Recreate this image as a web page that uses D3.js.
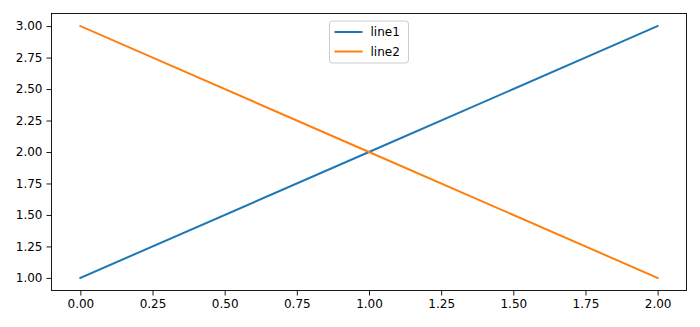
<!DOCTYPE html>
<html>
<head>
<meta charset="utf-8">
<script src="https://cdn.jsdelivr.net/npm/d3@7"></script>
<style>
	body { margin: 0; background: #fff; }
	text { font-family: 'DejaVu Sans', sans-serif; fill: #000; }
</style>
</head>
<body>
<script>
// data
var xValues = [0, 1, 2];
var line1 = [1, 2, 3];
var line2 = [3, 2, 1];
var seriesNames = ['line1', 'line2'];
var seriesColors = ['#1f77b4', '#ff7f0e'];
var xTicks = [0, 0.25, 0.5, 0.75, 1, 1.25, 1.5, 1.75, 2];
var yTicks = [1, 1.25, 1.5, 1.75, 2, 2.25, 2.5, 2.75, 3];

var width = 700, height = 327;
var margin = { left: 51.5, top: 13.5, right: 13.5, bottom: 36.5 };
var fontSize = 12;

var svg = d3.select('body').append('svg')
	.attr('width', width)
	.attr('height', height);

var x = d3.scaleLinear()
	.domain([-0.1, 2.1])
	.range([margin.left, width - margin.right]);
var y = d3.scaleLinear()
	.domain([0.9, 3.1])
	.range([height - margin.bottom, margin.top]);

// axes
var xAxisEl = svg.append('g')
	.attr('transform', 'translate(0,' + (height - margin.bottom) + ')')
	.call(d3.axisBottom(x).tickValues(xTicks).tickFormat(d3.format('.2f')).tickSize(5).tickPadding(4));
var yAxisEl = svg.append('g')
	.attr('transform', 'translate(' + margin.left + ',0)')
	.call(d3.axisLeft(y).tickValues(yTicks).tickFormat(d3.format('.2f')).tickSize(5).tickPadding(4));
[xAxisEl, yAxisEl].forEach(function (a) {
	a.select('.domain').remove();
	a.selectAll('line').attr('stroke', '#000').attr('stroke-width', 0.9);
	a.selectAll('text').style('font-size', fontSize + 'px').attr('fill', '#000');
});

// frame
svg.append('rect')
	.attr('x', margin.left).attr('y', margin.top)
	.attr('width', width - margin.left - margin.right)
	.attr('height', height - margin.top - margin.bottom)
	.attr('fill', 'none').attr('stroke', '#000').attr('stroke-width', 0.9);

// lines
var series = [line1, line2];
var lineGen = d3.line()
	.x(function (d, i) { return x(xValues[i]); })
	.y(function (d) { return y(d); });
svg.selectAll('.series').data(series).enter().append('path')
	.attr('class', 'series')
	.attr('fill', 'none')
	.attr('stroke', function (d, i) { return seriesColors[i]; })
	.attr('stroke-width', 2)
	.attr('stroke-linecap', 'square')
	.attr('d', lineGen);

// legend
var legend = svg.append('g').attr('transform', 'translate(329.5,21)');
legend.append('rect')
	.attr('width', 79).attr('height', 42)
	.attr('rx', 3).attr('ry', 3)
	.attr('fill', '#fff').attr('fill-opacity', 0.8)
	.attr('stroke', '#ccc').attr('stroke-width', 1);
var items = legend.selectAll('.item').data(seriesNames).enter().append('g')
	.attr('class', 'item')
	.attr('transform', function (d, i) { return 'translate(0,' + (11 + i * 19.5) + ')'; });
items.append('line')
	.attr('x1', 5).attr('x2', 33)
	.attr('stroke', function (d, i) { return seriesColors[i]; })
	.attr('stroke-width', 2);
items.append('text')
	.attr('x', 41).attr('dy', '0.35em')
	.style('font-size', fontSize + 'px')
	.text(function (d) { return d; });
</script>
</body>
</html>
